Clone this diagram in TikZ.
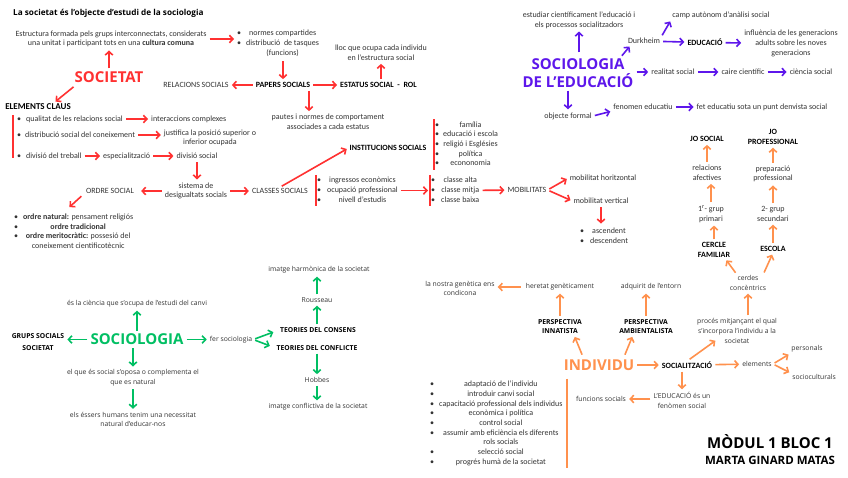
\documentclass[tikz,border=0pt]{standalone}
\usepackage{fontspec}
\setmainfont{Carlito}
\newfontfamily\opensans{Open Sans}
\usetikzlibrary{arrows.meta}
\definecolor{vermell}{HTML}{FF3131}
\definecolor{lila}{HTML}{5E17EB}
\definecolor{verd}{HTML}{00BF63}
\definecolor{taronja}{HTML}{FF914D}

\begin{document}
\begin{tikzpicture}[x=1pt, y=-1pt,
	txt/.style={ font=\fontsize{8}{9.7}\selectfont, text=black!80, align=center, inner sep=1pt },
	btxt/.style={ font=\fontsize{8}{9.7}\selectfont\bfseries, text=black, align=center, inner sep=1pt },
	otxt/.style={ font=\opensans\fontsize{6.8}{9.7}\selectfont, text=black!80, align=center, inner sep=1pt },
	obtxt/.style={ font=\opensans\bfseries\fontsize{6.8}{9.7}\selectfont, text=black, align=center, inner sep=1pt },
	big/.style={ font=\opensans\bfseries\fontsize{15}{18}\selectfont, align=center, inner sep=1pt },
	arr/.style={ line width=1.6pt, shorten <=2pt, shorten >=2pt, -{Straight Barb[length=3.5pt,width=7.5pt]} },
	rarr/.style={ arr, draw=vermell },
	parr/.style={ arr, draw=lila },
	garr/.style={ arr, draw=verd },
	oarr/.style={ arr, draw=taronja },
	bar/.style={ line width=1.8pt }
]
\fill[white] (0,0) rectangle (848,477);
\useasboundingbox (0,0) rectangle (848,477);

% societat
\node at (13,13) (titol) [anchor=west, inner sep=0pt, font=\opensans\bfseries\fontsize{8.2}{10}\selectfont] {La societat és l’objecte d’estudi de la sociologia};
\node at (111,39) (estructura) [txt] {Estructura formada pels grups interconnectats, considerats\\una unitat i participant tots en una \textbf{cultura comuna}};
\node at (109,77) (societat) [big, text=vermell] {SOCIETAT};
\node at (38,107) (elements) [btxt, font=\fontsize{9}{10}\selectfont\bfseries] {ELEMENTS CLAUS};
\draw[rarr] (societat.north) -- (societat.north |- estructura.south);
\draw[rarr, shorten <=5pt] (societat.192) -- ([xshift=-18pt]elements.north east);

\node at (16,119) (qualitat) [txt, anchor=west] {\textbullet\hspace{5pt}qualitat de les relacions social};
\node at (150,119) (interaccions) [txt, anchor=west] {interaccions complexes};
\node at (16,135) (distribucio) [txt, anchor=west] {\textbullet\hspace{4pt}distribució social del coneixement};
\node at (210,138) (justifica) [txt] {justifica la posició superior o\\inferior ocupada};
\node at (16,156) (divisio) [txt, anchor=west] {\textbullet\hspace{5pt}divisió del treball};
\node at (102,156) (especial) [txt, anchor=west] {especialització};
\node at (197,156) (divsocial) [txt] {divisió social};
\draw[bar, vermell] (13,115) -- (13,158);
\draw[rarr] (qualitat) -- (interaccions);
\draw[rarr] (distribucio) -- (distribucio -| justifica.west);
\draw[rarr] (divisio) -- (especial);
\draw[rarr] (especial) -- (divsocial);

\node at (196,191) (sistema) [txt] {sistema de\\desigualtats socials};
\node at (110,191) (ordre) [txt] {ORDRE SOCIAL};
\node at (280,191) (classes) [txt] {CLASSES SOCIALS};
\draw[rarr] (divsocial) -- (divsocial |- sistema.north);
\draw[rarr, shorten >=6pt] (sistema) -- (ordre);
\draw[rarr] (sistema) -- (classes);

\node at (13,232) (ordrelist) [txt, anchor=west] {\begin{tabular}{@{}c@{\hspace{5pt}}c@{}}
\textbullet & \textbf{ordre natural:} pensament religiós\\
\textbullet & \textbf{ordre tradicional}\\
\textbullet & \textbf{ordre meritocràtic:} possesió del\\
 & coneixement cientificotècnic
\end{tabular}};
\draw[rarr] ([xshift=-2pt]ordre.south west) -- ([shift={(55pt,3pt)}]ordrelist.north west);

\node at (236,43.5) (normes) [txt, anchor=west] {\begin{tabular}{@{}c@{\hspace{5pt}}c@{}}
\textbullet & normes compartides\\
\textbullet & distribució \ de tasques\\
 & (funcions)
\end{tabular}};
\draw[rarr] (estructura.east) -- (estructura.east -| normes.west);

\node at (283,85) (papers) [btxt] {PAPERS SOCIALS};
\node at (196,85) (relacions) [txt] {RELACIONS SOCIALS};
\node at (378.5,85) (estatus) [btxt] {ESTATUS SOCIAL\ \ -\ \ ROL};
\node at (381,53) (lloc) [txt] {lloc que ocupa cada individu\\en l’estructura social};
\node at (328,122) (pautes) [txt] {pautes i normes de comportament\\associades a cada estatus};
\draw[rarr] (normes.south -| papers) -- (papers);
\draw[rarr] (papers) -- (relacions);
\draw[rarr] (papers) -- (estatus);
\draw[rarr] (estatus.north -| lloc) -- (lloc);
\draw[rarr] ([xshift=26pt]papers.south) -- ([xshift=26pt]papers.south |- pautes.north);

\node at (388,148) (institucions) [btxt] {INSTITUCIONS SOCIALS};
\draw[rarr] (classes.north) -- (institucions.west);
\node at (434,144.5) (instlist) [txt, anchor=west] {\begin{tabular}{@{}c@{\hspace{4pt}}c@{}}
\textbullet & família\\
\textbullet & educació i escola\\
\textbullet & religió i Esglésies\\
\textbullet & política\\
\textbullet & econonomia
\end{tabular}};
\draw[bar, vermell] (instlist.north west) -- (instlist.south west);

\node at (316,190.5) (indicadors) [txt, anchor=west] {\begin{tabular}{@{}c@{\hspace{6pt}}c@{}}
\textbullet & ingressos econòmics\\
\textbullet & ocupació professional\\
\textbullet & nivell d’estudis
\end{tabular}};
\draw[bar, vermell] (indicadors.north west) -- (indicadors.south west);
\node at (430,190.5) (classelist) [txt, anchor=west] {\begin{tabular}{@{}c@{\hspace{6pt}}c@{}}
\textbullet & classe alta\\
\textbullet & classe mitja\\
\textbullet & classe baixa
\end{tabular}};
\draw[bar, vermell] (classelist.north west) -- (classelist.south west);
\draw[rarr] (indicadors) -- (classelist);

\node at (527,190) (mobilitats) [txt] {MOBILITATS};
\node at (603,178) (horitz) [txt] {mobilitat horitzontal};
\node at (601,201) (vertical) [txt] {mobilitat vertical};
\node at (604,236.5) (ascdesc) [txt] {\begin{tabular}{@{}c@{\hspace{6pt}}c@{}}
\textbullet & ascendent\\
\textbullet & descendent
\end{tabular}};
\draw[rarr] (classelist) -- (mobilitats);
\draw[rarr] (mobilitats.east) -- (horitz.west);
\draw[rarr] (mobilitats.east) -- (vertical.west);
\draw[rarr] (vertical) -- (vertical |- ascdesc.north);

% sociologia de l'educacio
\node at (579,20) (estudiar) [txt] {estudiar científicament l’educació i\\els processos socialitzadors};
\node at (578,73) (socedu) [big, text=lila] {SOCIOLOGIA\\DE L’EDUCACIÓ};
\node at (644,41) (durkheim) [txt] {Durkheim};
\node at (721,15) (camp) [txt] {camp autònom d’anàlisi social};
\node at (705,42.5) (educacio) [btxt] {EDUCACIÓ};
\node at (791,43.5) (influencia) [txt] {influència de les generacions\\adults sobre les noves\\generacions};
\node at (673,72) (realitat) [txt] {realitat social};
\node at (743,72) (caire) [txt] {caire científic};
\node at (811,72) (ciencia) [txt] {ciència social};
\node at (568,116) (objecte) [txt] {objecte formal};
\node at (643,107) (fenomen) [txt] {fenomen educatiu};
\node at (762,107) (fet) [txt] {fet educatiu sota un punt denvista social};
\draw[parr, shorten <=5pt] (socedu.north -| estudiar) -- (estudiar);
\draw[parr] ([xshift=-14pt]socedu.north east) -- ([xshift=4pt]durkheim.south west);
\draw[parr] (durkheim.north east) -- (camp.south west);
\draw[parr] (durkheim) -- (educacio);
\draw[parr] (educacio) -- (influencia);
\draw[parr] (socedu.east |- realitat) -- (realitat);
\draw[parr] (realitat) -- (caire);
\draw[parr] (caire) -- (ciencia);
\draw[parr] (socedu.south -| objecte) -- (objecte);
\draw[parr] (objecte.east) -- (fenomen.south west);
\draw[parr] (fenomen) -- (fet);

% individu
\node at (707,139) (josocial) [btxt] {JO SOCIAL};
\node at (773,137) (joprof) [btxt] {JO\\PROFESSIONAL};
\node at (707,173) (afectives) [txt] {relacions\\afectives};
\node at (711,214) (primari) [txt] {1\textsuperscript{r}- grup\\primari};
\node at (714,250) (familiar) [btxt] {CERCLE\\FAMILIAR};
\node at (773,249) (escola) [btxt] {ESCOLA};
\node at (773,214) (secundari) [txt] {2- grup\\secundari};
\node at (773,174) (preparacio) [txt] {preparació\\professional};
\node at (748,283) (cercles) [otxt] {cerdes\\concèntrics};
\node at (737,331) (proces) [otxt] {procés mitjançant el qual\\s’incorpora l’individu a la\\societat};
\node at (687,365) (socialitzacio) [btxt] {SOCIALITZACIÓ};
\node at (599,365) (individu) [big, text=taronja] {INDIVIDU};
\node at (757,364) (elem) [otxt] {elements};
\node at (807,349) (personals) [otxt] {personals};
\node at (814,377) (sociocult) [otxt] {socioculturals};
\node at (682,400.5) (leducacio) [otxt] {L’EDUCACIÓ és un\\fenòmen social};
\node at (601,399) (funcions) [otxt] {funcions socials};
\node at (560,326.5) (innatista) [obtxt] {PERSPECTIVA\\INNATISTA};
\node at (560,287) (heretat) [otxt] {heretat genèticament};
\node at (460,288.5) (genetica) [otxt] {la nostra genètica ens\\condicona};
\node at (646,326.5) (ambiental) [obtxt] {PERSPECTIVA\\AMBIENTALISTA};
\node at (651,287) (adquirit) [otxt] {adquirit de l’entorn};
\node at (429,423.5) (funclist) [txt, anchor=west] {\begin{tabular}{@{}c@{\hspace{5pt}}c@{}}
\textbullet & adaptació de l’individu\\
\textbullet & introduir canvi social\\
\textbullet & capacitació professional dels individus\\
\textbullet & econòmica i política\\
\textbullet & control social\\
\textbullet & assumir amb eficiència els diferents\\
 & rols socials\\
\textbullet & selecció social\\
\textbullet & progrés humà de la societat
\end{tabular}};
\draw[bar, taronja] ([xshift=3pt]funclist.north east) -- ([xshift=3pt]funclist.south east);

\draw[oarr] (afectives) -- (josocial);
\draw[oarr] (primari.north) -- (primari.north |- afectives.south);
\draw[oarr] (familiar.north) -- (familiar.north |- primari.south);
\draw[oarr] ([xshift=8pt]cercles.north west) -- ([xshift=-6pt]familiar.south east);
\draw[oarr] ([xshift=-4pt]cercles.north east) -- (escola.south);
\draw[oarr] (escola) -- (secundari);
\draw[oarr] (secundari) -- (preparacio);
\draw[oarr] (preparacio) -- (joprof);
\draw[oarr] (proces.north -| cercles) -- (cercles);
\draw[oarr] ([xshift=1pt]socialitzacio.north) -- ([shift={(21pt,5pt)}]proces.south west);
\draw[oarr] (individu) -- (socialitzacio);
\draw[oarr] (socialitzacio) -- (elem);
\draw[oarr] (elem.east) -- (personals.south west);
\draw[oarr] (elem.east) -- (sociocult.north west);
\draw[oarr] (socialitzacio.south -| leducacio) -- (leducacio);
\draw[oarr] (leducacio.west |- funcions) -- (funcions);
\draw[oarr, shorten <=4pt] ([xshift=21pt]individu.north west) -- ([xshift=14pt]innatista.south);
\draw[oarr, shorten <=4pt] ([xshift=-12pt]individu.north east) -- ([xshift=-13pt]ambiental.south);
\draw[oarr] (innatista) -- (innatista |- heretat.south);
\draw[oarr, shorten <=4pt] (heretat.west) -- (heretat.west -| genetica.east);
\draw[oarr] (ambiental.north) -- (ambiental.north |- adquirit.south);

% sociologia
\node at (137,339.5) (sociologia) [big, text=verd] {SOCIOLOGIA};
\node at (137,304) (canvi) [otxt] {és la ciència que s’ocupa de l’estudi del canvi};
\node at (38,342) (grups) [obtxt, font=\opensans\bfseries\fontsize{6.8}{12}\selectfont] {GRUPS SOCIALS\\SOCIETAT};
\node at (231,339.5) (fersoc) [otxt] {fer sociologia};
\node at (318,330) (consens) [obtxt] {TEORIES DEL CONSENS};
\node at (317,348) (conflicte) [obtxt] {TEORIES DEL CONFLICTE};
\node at (317,300) (rousseau) [otxt] {Rousseau};
\node at (319,270) (harmonica) [otxt] {imatge harmònica de la societat};
\node at (317,380) (hobbes) [otxt] {Hobbes};
\node at (318,407) (conflictiva) [otxt] {imatge conflictiva de la societat};
\node at (133,378) (oposa) [otxt] {el que és social s’oposa o complementa el\\que es natural};
\node at (133,419.5) (educar) [otxt] {els éssers humans tenim una necessitat\\natural d’educar-nos};
\draw[garr] (sociologia) -- (canvi);
\draw[garr] (sociologia.west) -- (sociologia.west -| grups.east);
\draw[garr] (sociologia) -- (fersoc);
\draw[garr, shorten >=6pt] (fersoc.east) -- (consens.west);
\draw[garr, shorten >=6pt] (fersoc.east) -- (conflicte.west);
\draw[garr] (consens.north -| rousseau) -- (rousseau);
\draw[garr] (rousseau) -- (rousseau |- harmonica.south);
\draw[garr] (conflicte.south -| hobbes) -- (hobbes);
\draw[garr] (hobbes) -- (hobbes |- conflictiva.north);
\draw[garr] (sociologia.south -| oposa) -- (oposa);
\draw[garr] (oposa) -- (educar);

\node at (770,442) (modul) [font=\opensans\bfseries\fontsize{15}{18}\selectfont] {MÒDUL 1 BLOC 1};
\node at (770,460) (autora) [font=\opensans\bfseries\fontsize{11.5}{13}\selectfont] {MARTA GINARD MATAS};

\end{tikzpicture}
\end{document}
